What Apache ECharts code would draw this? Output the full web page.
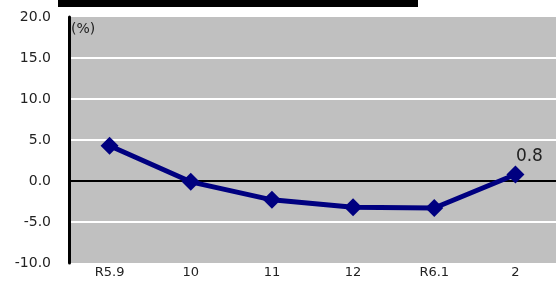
<!DOCTYPE html>
<html><head><meta charset="utf-8">
<script src="https://cdn.jsdelivr.net/npm/echarts@6/dist/echarts.min.js"></script>
<style>html,body{margin:0;padding:0;background:#fff}#c{width:556px;height:281px}</style>
</head><body><div id="c"></div>
<script>
const categories = ['R5.9', '10', '11', '12', 'R6.1', '2'];
const values = [4.3, -0.1, -2.3, -3.2, -3.3, 0.8];
const yMin = -10, yMax = 20, yStep = 5;
const unitLabel = '(%)';

const chart = echarts.init(document.getElementById('c'));
const FONT = '"DejaVu Sans", sans-serif';
chart.setOption({
  animation: false,
  grid: { left: 69, right: 0, top: 17, bottom: 18, show: true, backgroundColor: '#c0c0c0', borderWidth: 0 },
  graphic: [
    { type: 'rect', left: 58, top: 0, shape: { width: 360, height: 7 }, style: { fill: '#000' }, z: 10 },
    { type: 'text', left: 71, top: 22, style: { text: unitLabel, fontSize: 14, fill: '#222', fontFamily: FONT }, z: 10 }
  ],
  xAxis: {
    type: 'category', data: categories, boundaryGap: true,
    axisLine: { show: false, onZero: false }, axisTick: { show: false },
    axisLabel: { fontSize: 13, color: '#222', fontFamily: FONT, margin: 3 }
  },
  yAxis: {
    type: 'value', min: yMin, max: yMax, interval: yStep,
    axisLine: { show: true, lineStyle: { color: '#000', width: 3 } },
    axisTick: { show: false },
    axisLabel: { fontSize: 14, color: '#222', fontFamily: FONT, margin: 18, formatter: v => v.toFixed(1) },
    splitLine: { show: true, lineStyle: { color: ['rgba(0,0,0,0)', '#fff', 'rgba(0,0,0,0)', '#fff', '#fff', '#fff', 'rgba(0,0,0,0)'], width: 2 } }
  },
  series: [{
    type: 'line', data: values,
    lineStyle: { color: '#000080', width: 5 },
    itemStyle: { color: '#000080' },
    symbol: 'diamond', symbolSize: 18, showAllSymbol: true,
    label: {
      show: true, position: 'top', distance: 0, offset: [14, 0], fontSize: 17, color: '#222', fontFamily: FONT,
      formatter: p => p.dataIndex === values.length - 1 ? p.value.toFixed(1) : ''
    },
    markLine: {
      silent: true, symbol: 'none', label: { show: false },
      lineStyle: { color: '#000', width: 2, type: 'solid' },
      data: [{ yAxis: 0 }], z: 1
    },
    z: 3
  }]
});
</script></body></html>
